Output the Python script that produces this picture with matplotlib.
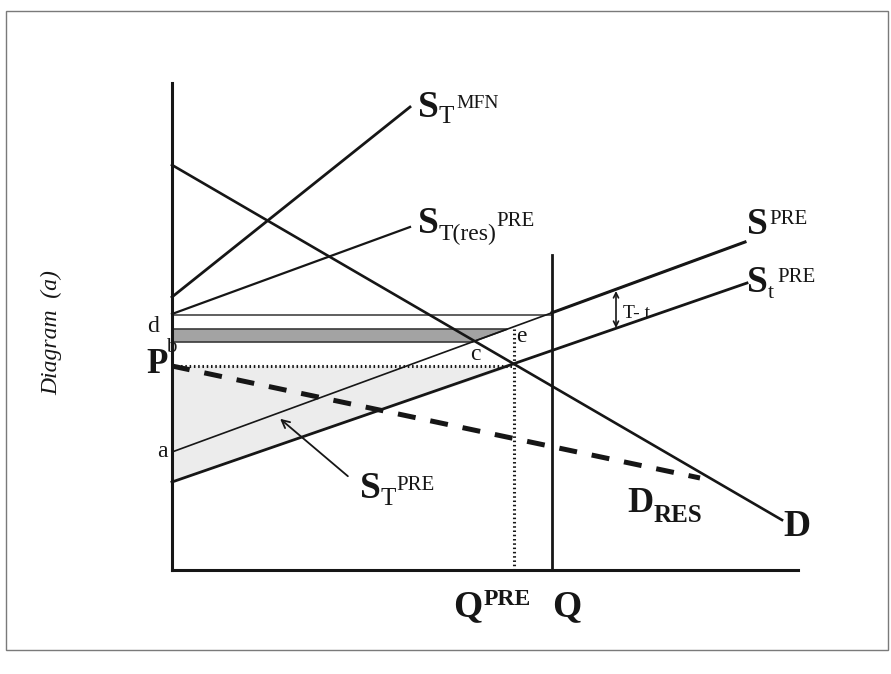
import matplotlib.pyplot as plt
from matplotlib.patches import Polygon, Rectangle

# units: quantity to the right of the price axis, price above the quantity axis
axis_top = 487
axis_end = 626

demand = [(0, 405), (610, 50)]            # D
demand_res = [(0, 204), (528, 92)]        # D_RES (dashed)
supply_pre = [(0, 118), (573, 328)]       # S^PRE, thin from a
supply_t = [(0, 88), (575, 287)]          # S_t^PRE
supply_mfn = [(0, 273), (238, 463)]       # S_T^MFN
supply_res = [(0, 256), (238, 343)]       # S_T(res)^PRE

p_top = 255        # horizontal line from S_T(res) intercept
p_pre = 204        # P
band = (228, 241)  # shaded strip b..d
q_pre = 342        # Q^PRE
q_line = 380       # Q
q_line_top = 315
tt_q, tt_p = 444, (279, 242)   # T - t marker

arrow_tail = (178, 92)
arrow_head = (106, 153)

SERIF = ['Liberation Serif', 'DejaVu Serif']
INK = '#161616'

fig = plt.figure(figsize=(8.91, 6.74), dpi=100)
ax = fig.add_axes([0, 0, 1, 1])
ax.set_xlim(-172, 719)
ax.set_ylim(-104, 570)
ax.axis('off')
renderer = fig.canvas.get_renderer()


def on_line(line, p):
    (x0, y0), (x1, y1) = line
    return x0 + (p - y0) * (x1 - x0) / (y1 - y0)


def width(t):
    return t.get_window_extent(renderer).width


def curve_label(x, y, base, sub='', sup='', size=27, sub_size=18, sup_size=14,
                sub_dy=-6, sup_dy=9, small_bold=False, gap=0):
    w = 'bold' if small_bold else 'normal'
    t = ax.text(x, y, base, fontsize=size, fontweight='bold', family=SERIF,
                va='baseline', ha='left', color=INK)
    x2 = x + width(t)
    if sub:
        s = ax.text(x2, y + sub_dy, sub, fontsize=sub_size, fontweight=w,
                    family=SERIF, va='baseline', ha='left', color=INK)
        x2 = x2 + width(s)
    if sup:
        ax.text(x2 + gap, y + sup_dy, sup, fontsize=sup_size, fontweight=w,
                family=SERIF, va='baseline', ha='left', color=INK)


# outer frame of the scan
ax.add_patch(Rectangle((-166, -80), 882, 639, fill=False, ec='#7a7a7a', lw=1.0))

# light triangle under P
ax.add_patch(Polygon([(0, p_pre), (q_pre, p_pre), supply_t[0]], closed=True,
                     fc='#ececec', ec='none', zorder=1))
# dark strip between b and d, cut by S^PRE
strip = [(0, band[0]), (on_line(supply_pre, band[0]), band[0]),
         (on_line(supply_pre, band[1]), band[1]), (0, band[1])]
ax.add_patch(Polygon(strip, closed=True, fc='#a3a3a3', ec='#3a3a3a', lw=1.2, zorder=1))

# axes
ax.plot([0, 0], [0, axis_top], color=INK, lw=2.2, zorder=3)
ax.plot([0, axis_end], [0, 0], color=INK, lw=2.2, zorder=3)

ax.plot([0, q_line], [p_top, p_top], color='#444444', lw=1.2, zorder=2)
ax.plot([0, q_pre], [p_pre, p_pre], color=INK, lw=2.2, linestyle=(0, (0.5, 0.9)), zorder=2)
ax.plot([q_pre, q_pre], [0, band[1]], color=INK, lw=2.2, linestyle=(0, (0.5, 0.9)), zorder=2)
ax.plot([q_line, q_line], [0, q_line_top], color=INK, lw=2.0, zorder=3)

xs, ys = zip(*demand)
ax.plot(xs, ys, color=INK, lw=1.9, zorder=3)
xs, ys = zip(*demand_res)
ax.plot(xs, ys, color=INK, lw=3.6, linestyle=(0, (3.6, 3.0)), zorder=3)
xs, ys = zip(*supply_pre)
ax.plot(xs, ys, color=INK, lw=1.2, zorder=3)
p_q = supply_pre[0][1] + (q_line - supply_pre[0][0]) * (supply_pre[1][1] - supply_pre[0][1]) / (supply_pre[1][0] - supply_pre[0][0])
ax.plot([q_line, supply_pre[1][0]], [p_q, supply_pre[1][1]], color=INK, lw=2.2, zorder=3)
xs, ys = zip(*supply_t)
ax.plot(xs, ys, color=INK, lw=2.0, zorder=3)
xs, ys = zip(*supply_mfn)
ax.plot(xs, ys, color=INK, lw=2.0, zorder=3)
xs, ys = zip(*supply_res)
ax.plot(xs, ys, color=INK, lw=1.6, zorder=3)

ax.annotate('', xy=arrow_head, xytext=arrow_tail,
            arrowprops=dict(arrowstyle='->', lw=1.3, color=INK, mutation_scale=14))
ax.annotate('', xy=(tt_q, tt_p[1]), xytext=(tt_q, tt_p[0]),
            arrowprops=dict(arrowstyle='<->', lw=1.2, color=INK, mutation_scale=9,
                            shrinkA=0, shrinkB=0))

# curve labels
curve_label(246, 453, 'S', 'T', 'MFN', sub_dy=-6, sup_dy=9, gap=2)
curve_label(246, 337, 'S', 'T(res)', 'PRE', sub_size=17, sup_size=15, sub_dy=-7, sup_dy=7)
curve_label(575, 336, 'S', '', 'PRE', sup_size=15, sup_dy=10, gap=2)
curve_label(575, 278, 'S', 't', 'PRE', sub_size=16, sup_size=15, sub_dy=-6, sup_dy=10, gap=3)
curve_label(188, 72, 'S', 'T', 'PRE', sub_size=18, sup_size=15, sub_dy=-7, sup_dy=8)
curve_label(455, 58, 'D', 'RES', '', size=26, sub_size=18, sub_dy=-10, small_bold=True)
curve_label(611, 34, 'D', size=27)
curve_label(281, -46, 'Q', '', 'PRE', size=27, sup_size=17, sup_dy=11, small_bold=True, gap=1)
curve_label(380, -46, 'Q', size=27)
curve_label(-26, 197, 'P', size=25)

small = dict(fontsize=17, family=SERIF, va='baseline', ha='left', color=INK)
ax.text(-25, 238, 'd', **small)
ax.text(-6, 218, 'b', fontsize=15, family=SERIF, va='baseline', ha='left', color=INK)
ax.text(-15, 113, 'a', **small)
ax.text(298, 210, 'c', **small)
ax.text(344, 228, 'e', **small)
ax.text(451, 252, 'T- t', fontsize=14, family=SERIF, va='baseline', ha='left', color=INK)

ax.text(-120, 237, 'Diagram  (a)', rotation=90, style='italic', fontsize=17,
        family=SERIF, ha='center', va='center', color=INK)

fig.savefig('out.png', dpi=100)
